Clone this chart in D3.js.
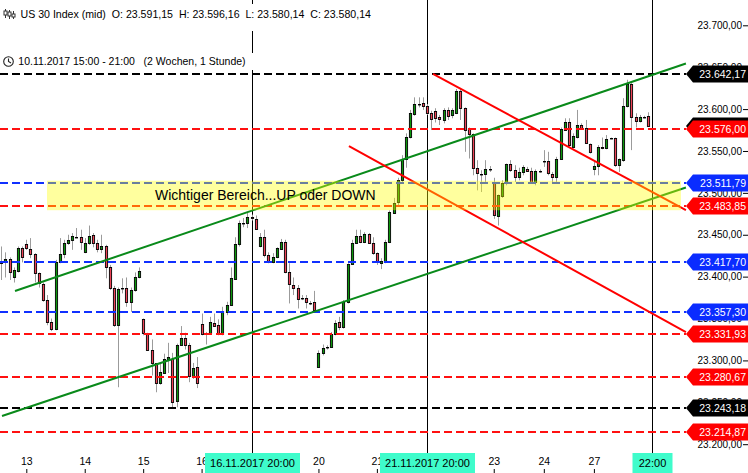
<!DOCTYPE html>
<html><head><meta charset="utf-8">
<script src="https://cdn.jsdelivr.net/npm/d3@7"></script>
<style>
html,body{margin:0;padding:0;background:#fff;}
svg{display:block;font-family:"Liberation Sans",Arial,sans-serif;}
</style></head><body>
<svg id="c" width="748" height="473"></svg>
<script>
// ---------------- data ----------------
const dayLabels  = ["10","13","14","15","16","17","20","21","22","23","24","27"];
const dayCandles = [7,14,14,14,14,14,14,14,14,12,12,14];

const open = [23422,23416,23417,23421,23399,23407,23434,
23439,23433,23427,23404,23391,23372,23346,23337,23417,23427,23440,23444,23447,23447,
23429,23440,23450,23440,23433,23436,23411,23386,23342,23386,23386,23370,23384,23399,
23349,23331,23313,23297,23273,23285,23302,23302,23251,23319,23327,23318,23282,23292,
23343,23333,23333,23345,23342,23331,23358,23366,23397,23439,23464,23464,23471,23469,
23436,23447,23426,23417,23423,23433,23441,23405,23390,23387,23374,23374,23368,23370,
23292,23309,23316,23316,23332,23346,23340,23370,23415,23440,23448,23441,23451,23440,
23428,23416,23417,23441,23476,23489,23515,23540,23567,23594,23606,23607,23604,23595,
23598,23590,23587,23599,23593,23595,23621,23601,23576,23570,23530,23522,23522,23528,
23512,23472,23496,23512,23534,23527,23519,23525,23528,23526,23513,23526,
23538,23538,23522,23519,23541,23575,23584,23555,23567,23581,23578,23558,
23528,23532,23555,23553,23565,23565,23533,23539,23604,23630,23590,23586,23590,23591.15];
const high = [23432,23436,23429,23423,23411,23436,23436,
23444,23446,23428,23405,23393,23378,23350,23420,23446,23444,23450,23452,23458,23456,
23446,23461,23452,23444,23450,23438,23414,23389,23387,23398,23399,23387,23405,23411,
23350,23333,23325,23297,23297,23308,23321,23309,23320,23341,23333,23321,23297,23304,
23356,23334,23352,23356,23349,23364,23370,23411,23447,23467,23470,23476,23474,23473,
23452,23456,23429,23428,23435,23445,23444,23416,23399,23390,23378,23378,23371,23383,
23312,23319,23318,23334,23348,23352,23372,23416,23444,23456,23456,23453,23452,23447,
23429,23422,23444,23479,23494,23518,23545,23571,23599,23614,23614,23614,23606,23598,
23601,23593,23601,23602,23601,23624,23624,23602,23578,23571,23539,23527,23539,23532,
23518,23498,23515,23535,23539,23533,23530,23533,23531,23530,23528,23528,
23551,23549,23525,23543,23578,23589,23589,23571,23599,23583,23587,23559,
23539,23557,23566,23569,23566,23566,23541,23613,23635,23631,23595,23593,23592,23596.16];
const low = [23410,23396,23399,23396,23393,23405,23417,
23432,23422,23393,23387,23370,23342,23335,23336,23416,23422,23438,23432,23446,23432,
23428,23438,23435,23429,23428,23398,23384,23340,23268,23380,23364,23358,23382,23398,
23330,23312,23282,23262,23271,23284,23285,23243,23244,23318,23313,23274,23278,23267,
23330,23319,23331,23340,23330,23330,23354,23365,23396,23436,23459,23458,23467,23456,
23435,23423,23416,23416,23422,23432,23404,23368,23378,23362,23372,23362,23366,23358,
23291,23306,23313,23315,23330,23336,23338,23368,23414,23439,23440,23440,23439,23426,
23414,23409,23416,23440,23475,23485,23513,23530,23565,23592,23602,23599,23593,23575,
23584,23581,23583,23587,23589,23594,23587,23549,23541,23521,23503,23501,23513,23525,
23469,23461,23494,23509,23525,23513,23515,23521,23525,23512,23509,23524,
23531,23521,23513,23513,23540,23574,23555,23553,23565,23577,23559,23547,
23521,23521,23552,23552,23564,23531,23525,23537,23602,23551,23578,23584,23589,23580.14];
const close = [23417,23417,23421,23405,23408,23434,23423,
23434,23427,23404,23392,23372,23346,23337,23417,23427,23440,23444,23448,23447,23441,
23440,23448,23440,23433,23436,23411,23386,23342,23385,23386,23370,23384,23399,23407,
23333,23313,23297,23273,23286,23302,23304,23250,23319,23327,23319,23282,23291,23273,
23331,23332,23346,23341,23331,23359,23366,23398,23439,23464,23464,23471,23470,23457,
23447,23426,23417,23423,23434,23441,23405,23391,23387,23373,23374,23370,23368,23360,
23309,23315,23316,23331,23345,23340,23370,23415,23440,23448,23441,23451,23440,23428,
23417,23419,23441,23477,23488,23515,23540,23567,23595,23606,23606,23604,23595,23588,
23589,23588,23599,23592,23599,23621,23601,23575,23570,23530,23524,23522,23528,23528,
23473,23497,23512,23534,23527,23519,23525,23531,23526,23513,23526,23526,
23538,23524,23519,23541,23576,23584,23557,23568,23581,23578,23559,23549,
23532,23555,23553,23564,23565,23533,23540,23604,23630,23590,23586,23590,23590,23580.14];

const priceTicks  = [23200,23250,23300,23350,23400,23450,23500,23550,23600,23650,23700];
const levelValues = [23642.17,23576.00,23511.79,23483.85,23417.70,23357.30,23331.93,23280.67,23243.18,23214.87];
const levelKinds  = ["black","red","blue","red","blue","blue","red","red","black","red"];
const lastPrice   = 23580.14;

const markerIndex  = [61,103,157];
const markerLabels = ["16.11.2017 20:00","21.11.2017 20:00","22:00"];

// trend lines: [startIndex, startPrice, endIndex, endPrice]
const trendGreen = [[4.29,23382.9,165.05,23654.4],[1.18,23233.7,165.05,23506.4]];
const trendRed   = [[104.44,23641.9,165.05,23479.5],[84.31,23555.9,165.05,23333.9]];

const zonePrices = [23479.3,23514.5];
const zoneIndex  = [11.96,163.85];
const zoneText   = "Wichtiger Bereich...UP oder DOWN";

const titleText = "US 30 Index (mid)  O: 23.591,15  H: 23.596,16  L: 23.580,14  C: 23.580,14";
const rangeText = "10.11.2017 15:00 - 21:00   (2 Wochen, 1 Stunde)";

// ---------------- drawing ----------------
const svg = d3.select("#c");
const W = 748, H = 473, plotRight = 686;
const x = d3.scaleLinear().domain([7,143]).range([26.3,593.9]);
const y = d3.scaleLinear().domain([23200,23700]).range([444.2,25.3]);
const de = d3.formatLocale({decimal:",",thousands:".",grouping:[3],currency:["","€"]});
const fmt = de.format(",.2f");
const col = {black:"#000000", red:"#ff1010", blue:"#1030ff"};
const tagCol = {black:"#000000", red:"#ff0000", blue:"#0a2cff"};
const markerW = k => markerLabels[k].length>6 ? 95 : 40;

svg.append("rect").attr("width",W).attr("height",H).attr("fill","#fff");

// vertical marker lines
svg.append("g").selectAll("line").data(markerIndex).join("line")
  .attr("x1",d=>Math.round(x(d))+0.5).attr("x2",d=>Math.round(x(d))+0.5)
  .attr("y1",0).attr("y2",453).attr("stroke","#000").attr("stroke-width",1);

// candles
const candles = open.map((o,j)=>({j,o,h:high[j],l:low[j],c:close[j]}));
const cx = d=>Math.round(x(d.j));
const gC = svg.append("g");
gC.selectAll("line").data(candles).join("line")
  .attr("x1",d=>cx(d)+0.5).attr("x2",d=>cx(d)+0.5)
  .attr("y1",d=>y(d.h)).attr("y2",d=>y(d.l))
  .attr("stroke","#9b9b9b").attr("stroke-width",1);
gC.selectAll("rect.b").data(candles.filter(d=>d.o!==d.c)).join("rect").attr("class","b")
  .attr("x",d=>cx(d)-0.6).attr("width",2.2)
  .attr("y",d=>Math.round(y(Math.max(d.o,d.c)))+0.5)
  .attr("height",d=>Math.max(1,Math.round(y(Math.min(d.o,d.c)))-Math.round(y(Math.max(d.o,d.c)))))
  .attr("fill",d=>d.c>d.o?"#0c960c":"#ec4256")
  .attr("stroke","#000").attr("stroke-width",0.9);
gC.selectAll("rect.d").data(candles.filter(d=>d.o===d.c)).join("rect").attr("class","d")
  .attr("x",d=>cx(d)-1).attr("width",3)
  .attr("y",d=>Math.round(y(d.o))).attr("height",1.4).attr("fill","#000");

// horizontal level lines
svg.append("g").selectAll("line").data(levelValues).join("line")
  .attr("x1",0).attr("x2",plotRight)
  .attr("y1",d=>Math.round(y(d))).attr("y2",d=>Math.round(y(d)))
  .attr("stroke",(d,i)=>col[levelKinds[i]]).attr("stroke-width",2)
  .attr("stroke-dasharray","8,4");

// trend lines
const gT = svg.append("g");
gT.selectAll("line.g").data(trendGreen).join("line").attr("class","g")
  .attr("x1",d=>x(d[0])).attr("y1",d=>y(d[1])).attr("x2",d=>x(d[2])).attr("y2",d=>y(d[3]))
  .attr("stroke","#098a1a").attr("stroke-width",2);
gT.selectAll("line.r").data(trendRed).join("line").attr("class","r")
  .attr("x1",d=>x(d[0])).attr("y1",d=>y(d[1])).attr("x2",d=>x(d[2])).attr("y2",d=>y(d[3]))
  .attr("stroke","#ff0000").attr("stroke-width",2);

// yellow zone
svg.append("rect")
  .attr("x",x(zoneIndex[0])).attr("width",x(zoneIndex[1])-x(zoneIndex[0]))
  .attr("y",y(zonePrices[1])).attr("height",y(zonePrices[0])-y(zonePrices[1]))
  .attr("fill","#ffff00").attr("fill-opacity",0.38);
svg.append("text").attr("x",155).attr("y",(y(zonePrices[0])+y(zonePrices[1]))/2)
  .attr("dy","0.36em").attr("font-size",14).attr("fill","#000").text(zoneText);

// price axis
const ay = svg.append("g").attr("transform",`translate(${W},0)`)
  .call(d3.axisLeft(y).tickValues(priceTicks).tickFormat(fmt).tickSizeInner(5).tickSizeOuter(0).tickPadding(1));
ay.select(".domain").remove();
ay.selectAll("text").attr("font-size",10).attr("fill","#000").attr("font-family","Liberation Sans, Arial, sans-serif");
ay.selectAll("line").attr("stroke","#000");

// time axis (labels fully hidden under the marker tags are not drawn)
let acc = 0; const dayStart = [];
dayCandles.forEach((n,k)=>{dayStart.push(acc); acc+=n;});
const hidden = j => markerIndex.some((m,k)=>Math.abs(x(j)-x(m))<markerW(k)/2);
const tickIdx = dayStart.filter(j=>x(j)>10);
const labelOf = new Map(dayStart.map((j,k)=>[j,dayLabels[k]]));
const ax = svg.append("g").attr("transform",`translate(0,${H})`)
  .call(d3.axisTop(x).tickValues(tickIdx).tickFormat(j=>hidden(j)?"":labelOf.get(j)).tickSizeInner(4).tickSizeOuter(0).tickPadding(4));
ax.select(".domain").remove();
ax.selectAll("text").attr("font-size",10.5).attr("fill","#000").attr("font-family","Liberation Sans, Arial, sans-serif");
ax.selectAll("line").attr("stroke","#000");

// right price tags
function tag(v,kind,txt){
  const yy = Math.round(y(v));
  const g = svg.append("g");
  g.append("path").attr("d",`M${plotRight},${yy} L${plotRight+7},${yy-8.5} L${W},${yy-8.5} L${W},${yy+8.5} L${plotRight+7},${yy+8.5} Z`)
    .attr("fill",tagCol[kind]);
  g.append("text").attr("x",W-2).attr("y",yy).attr("dy","0.36em").attr("text-anchor","end")
    .attr("font-size",10.5).attr("fill","#fff").text(txt);
}
tag(lastPrice,"black",fmt(lastPrice));
levelValues.forEach((v,i)=>tag(v,levelKinds[i],fmt(v)));

// time marker tags
markerIndex.forEach((m,k)=>{
  const xx = Math.round(x(m))+0.5;
  const w = markerW(k);
  svg.append("rect").attr("x",xx-w/2).attr("y",453).attr("width",w).attr("height",20).attr("fill","#3ffccb");
  svg.append("text").attr("x",xx).attr("y",463.5).attr("dy","0.36em").attr("text-anchor","middle")
    .attr("font-size",11).attr("fill","#000").text(markerLabels[k]);
});

// header
svg.append("rect").attr("x",0).attr("y",4).attr("width",380).attr("height",27).attr("fill","#fff");
svg.append("rect").attr("x",0).attr("y",53).attr("width",256).attr("height",17).attr("fill","#fff");
const ic = svg.append("g").attr("stroke","#333").attr("stroke-width",1).attr("fill","none");
[[5,9,18,11,15],[9,10,19,12,16],[13,11,19,14,17]].forEach(a=>{
  ic.append("line").attr("x1",a[0]+0.5).attr("x2",a[0]+0.5).attr("y1",a[1]).attr("y2",a[2]);
  ic.append("rect").attr("x",a[0]-1).attr("y",a[3]).attr("width",3).attr("height",a[4]-a[3]).attr("fill","#fff");
});
svg.append("text").attr("x",20.5).attr("y",14).attr("dy","0.36em").attr("font-size",10.6).attr("fill","#000")
  .style("white-space","pre").text(titleText);
const clk = svg.append("g").attr("stroke","#222").attr("fill","none").attr("stroke-width",1.1);
clk.append("circle").attr("cx",8.5).attr("cy",61.5).attr("r",4.8);
clk.append("path").attr("d","M8.5,58.5 L8.5,61.5 L11,63");
svg.append("text").attr("x",18.3).attr("y",61.5).attr("dy","0.36em").attr("font-size",10.5).attr("fill","#000")
  .style("white-space","pre").text(rangeText);
</script>
</body></html>
